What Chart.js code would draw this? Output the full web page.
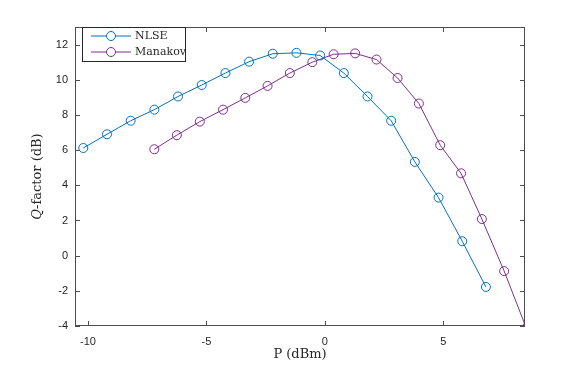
<!DOCTYPE html>
<html>
<head>
<meta charset="utf-8">
<script src="https://cdn.jsdelivr.net/npm/chart.js@4.4.0/dist/chart.umd.min.js"></script>
<style>
    body { margin: 0; background: #ffffff; }
    #wrap { width: 581px; height: 368px; }
</style>
</head>
<body>
<div id="wrap"><canvas id="myChart" width="581" height="368"></canvas></div>
<script>
let nlseP = [-10.2, -9.2, -8.2, -7.2, -6.2, -5.2, -4.2, -3.2, -2.2, -1.2, -0.2, 0.8, 1.8, 2.8, 3.8, 4.8, 5.8, 6.8];
let nlseQ = [6.12, 6.9, 7.67, 8.3, 9.05, 9.7, 10.38, 11.03, 11.48, 11.53, 11.38, 10.38, 9.05, 7.67, 5.33, 3.3, 0.82, -1.78];
let manakovP = [-7.2, -6.25, -5.28, -4.3, -3.36, -2.42, -1.48, -0.53, 0.37, 1.28, 2.18, 3.07, 3.97, 4.87, 5.75, 6.63, 7.57, 8.5];
let manakovQ = [6.05, 6.85, 7.62, 8.3, 8.97, 9.65, 10.38, 11.0, 11.45, 11.5, 11.15, 10.1, 8.65, 6.28, 4.68, 2.08, -0.88, -4.1];
let xTicks = [-10, -5, 0, 5];
let yTicks = [-4, -2, 0, 2, 4, 6, 8, 10, 12];
let seriesNames = ['NLSE', 'Manakov'];
let seriesColors = ['#0072BD', '#7E2F8E'];

function makePoints(xs, ys) {
    let pts = [];
    for (let i = 0; i < xs.length; i++) {
        pts.push({ x: xs[i], y: ys[i] });
    }
    return pts;
}

// box, inside ticks, axis titles and legend like the matlab figure
let matlabLook = {
    id: 'matlabLook',
    afterDraw(chart) {
        let ctx = chart.ctx;
        let a = chart.chartArea;
        let xs = chart.scales.x;
        let ys = chart.scales.y;
        ctx.save();
        ctx.strokeStyle = '#4d4d4d';
        ctx.lineWidth = 1;
        ctx.strokeRect(a.left + 0.5, a.top + 0.5, a.right - a.left - 1, a.bottom - a.top - 1);
        ctx.beginPath();
        for (let v of xTicks) {
            let px = Math.round(xs.getPixelForValue(v)) + 0.5;
            ctx.moveTo(px, a.bottom); ctx.lineTo(px, a.bottom - 5);
            ctx.moveTo(px, a.top); ctx.lineTo(px, a.top + 5);
        }
        for (let v of yTicks) {
            let py = Math.round(ys.getPixelForValue(v)) + 0.5;
            ctx.moveTo(a.left, py); ctx.lineTo(a.left + 5, py);
            ctx.moveTo(a.right, py); ctx.lineTo(a.right - 5, py);
        }
        ctx.stroke();

        // axis titles
        ctx.fillStyle = '#262626';
        ctx.font = '13px "DejaVu Serif", serif';
        ctx.textAlign = 'center';
        ctx.textBaseline = 'middle';
        ctx.fillText('P (dBm)', (a.left + a.right) / 2, 355);

        ctx.translate(38, (a.top + a.bottom) / 2);
        ctx.rotate(-Math.PI / 2);
        ctx.font = 'italic 13px "DejaVu Serif", serif';
        let qW = ctx.measureText('Q').width;
        ctx.font = '13px "DejaVu Serif", serif';
        let restW = ctx.measureText('-factor (dB)').width;
        let startX = -(qW + restW) / 2;
        ctx.textAlign = 'left';
        ctx.font = 'italic 13px "DejaVu Serif", serif';
        ctx.fillText('Q', startX, 0);
        ctx.font = '13px "DejaVu Serif", serif';
        ctx.fillText('-factor (dB)', startX + qW, 0);
        ctx.restore();

        // legend
        ctx.save();
        ctx.fillStyle = '#ffffff';
        ctx.fillRect(82, 27, 104, 35);
        ctx.strokeStyle = '#262626';
        ctx.lineWidth = 1;
        ctx.strokeRect(82.5, 27.5, 103, 34);
        ctx.font = '11px "DejaVu Serif", serif';
        ctx.textBaseline = 'middle';
        ctx.textAlign = 'left';
        for (let i = 0; i < seriesNames.length; i++) {
            let ly = 36 + i * 16;
            ctx.strokeStyle = seriesColors[i];
            ctx.beginPath();
            ctx.moveTo(91, ly); ctx.lineTo(131, ly);
            ctx.stroke();
            ctx.beginPath();
            ctx.arc(111, ly, 4.5, 0, Math.PI * 2);
            ctx.fillStyle = '#ffffff';
            ctx.fill();
            ctx.stroke();
            ctx.fillStyle = '#262626';
            ctx.fillText(seriesNames[i], 135, ly);
        }
        ctx.restore();
    }
};

function makeDataset(i, xs, ys) {
    return {
        label: seriesNames[i],
        data: makePoints(xs, ys),
        borderColor: seriesColors[i],
        backgroundColor: 'rgba(0,0,0,0)',
        borderWidth: 1,
        pointRadius: 4.5,
        pointBorderWidth: 1,
        pointStyle: 'circle',
        showLine: true,
        tension: 0
    };
}

new Chart(document.getElementById('myChart'), {
    type: 'scatter',
    data: {
        datasets: [
            makeDataset(0, nlseP, nlseQ),
            makeDataset(1, manakovP, manakovQ)
        ]
    },
    options: {
        responsive: false,
        animation: false,
        layout: { padding: { top: 27, right: 56, left: 0, bottom: 0 } },
        plugins: { legend: { display: false }, tooltip: { enabled: false } },
        scales: {
            x: {
                type: 'linear',
                min: -10.55,
                max: 8.45,
                afterBuildTicks: (s) => { s.ticks = xTicks.map(v => ({ value: v })); },
                afterFit: (s) => { s.height = 42; },
                grid: { display: false, drawTicks: false },
                border: { display: false },
                ticks: {
                    padding: 9,
                    color: '#262626',
                    font: { family: '"Liberation Sans", Arial, sans-serif', size: 11 },
                    maxRotation: 0,
                    callback: (v) => String(v)
                }
            },
            y: {
                type: 'linear',
                min: -4,
                max: 13,
                afterBuildTicks: (s) => { s.ticks = yTicks.map(v => ({ value: v })); },
                afterFit: (s) => { s.width = 75; },
                grid: { display: false, drawTicks: false },
                border: { display: false },
                ticks: {
                    padding: 7,
                    color: '#262626',
                    font: { family: '"Liberation Sans", Arial, sans-serif', size: 11 },
                    callback: (v) => String(v)
                }
            }
        }
    },
    plugins: [matlabLook]
});
</script>
</body>
</html>
